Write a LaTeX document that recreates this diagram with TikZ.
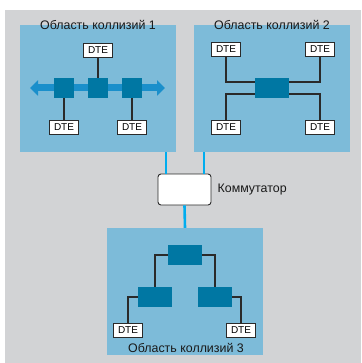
\documentclass[tikz,border=0pt]{standalone}
\usepackage{fontspec}
\setmainfont{Liberation Sans}
\usetikzlibrary{positioning,arrows.meta}
\definecolor{panelgray}{HTML}{D2D3D5}
\definecolor{areablue}{HTML}{7DBBD9}
\definecolor{hubblue}{HTML}{0077A3}
\definecolor{busblue}{HTML}{1A8FCB}
\definecolor{linkcyan}{HTML}{00ADEF}
\definecolor{wire}{HTML}{2A2A2A}

\begin{document}
\begin{tikzpicture}[
        x=1pt, y=-1pt,
        areabox/.style={fill=areablue, minimum width=156pt, minimum height=127pt, inner sep=0pt},
        areatitle/.style={font=\fontsize{12.4}{14}\selectfont, text=black!90, inner sep=0pt},
        dte/.style={draw=wire, fill=white, line width=0.8pt, minimum width=29pt, minimum height=14pt, inner sep=0pt, font=\fontsize{10}{11}\selectfont},
        hub/.style={fill=hubblue, minimum width=20pt, minimum height=20pt, inner sep=0pt},
        hubwide/.style={hub, minimum width=34pt},
        wired/.style={draw=wire, line width=1.1pt},
        uplink/.style={draw=linkcyan, line width=2.6pt},
        busline/.style={busblue, line width=7pt, {Triangle[length=8pt,width=15pt]}-{Triangle[length=8pt,width=15pt]}}
    ]
        \useasboundingbox (0,0) rectangle (361,363);
        \fill[panelgray] (5,10) rectangle (361,363);

        % Collision domain 1: shared bus
        \node[areabox] (area1) at (98,88.5) {};
        \node[areatitle] at ([yshift=-0.5pt]area1.north) {Область коллизий 1};
        \coordinate (busL) at (30,88);
        \coordinate (busR) at (165,88);
        \draw[busline] (busL) -- (busR);
        \node[hub] (tap1) at (64,88) {};
        \node[hub] (tap2) at (98,88) {};
        \node[hub] (tap3) at (132,88) {};
        \node[dte] (dteA) at (98,50) {DTE};
        \node[dte] (dteB) at (64,127) {DTE};
        \node[dte] (dteC) at (132,127) {DTE};
        \draw[wired] (tap2.north) -- (dteA.south);
        \draw[wired] (tap1.south) -- (dteB.north);
        \draw[wired] (tap3.south) -- (dteC.north);

        % Collision domain 2: hub
        \node[areabox] (area2) at (272,88.5) {};
        \node[areatitle] at ([yshift=-0.5pt]area2.north) {Область коллизий 2};
        \node[hubwide] (hub2) at (272,88) {};
        \node[dte] (dteD) at (226,49) {DTE};
        \node[dte] (dteE) at (320,49) {DTE};
        \node[dte] (dteF) at (226,127) {DTE};
        \node[dte] (dteG) at (320,127) {DTE};
        \draw[wired] (dteD.south) |- ([yshift=6pt]hub2.west);
        \draw[wired] (dteF.north) |- ([yshift=-6pt]hub2.west);
        \draw[wired] (dteE.south) |- ([yshift=6pt]hub2.east);
        \draw[wired] (dteG.north) |- ([yshift=-6pt]hub2.east);

        % Switch
        \node[draw=wire, fill=white, line width=0.9pt, rounded corners=3pt, minimum width=53pt, minimum height=31pt] (sw) at (184.5,189.5) {};
        \node[areatitle, right=6pt of sw] (swlabel) {Коммутатор};
        \draw[uplink] ([xshift=-18.5pt]sw.north) -- ([xshift=-18.5pt]sw.north |- area1.south);
        \draw[uplink] ([xshift=19.5pt]sw.north) -- ([xshift=19.5pt]sw.north |- area2.south);

        % Collision domain 3: tree of hubs
        \node[areabox] (area3) at (185,291.5) {};
        \draw[uplink] (sw.south) -- (area3.north);
        \node[areatitle] at (186,348) {Область коллизий 3};
        \node[hubwide] (root) at (185,255) {};
        \node[hubwide] (hubL) at (155,297) {};
        \node[hubwide] (hubR) at (215,297) {};
        \node[dte] (dteH) at (128,330) {DTE};
        \node[dte] (dteI) at (241,330) {DTE};
        \draw[wired] (root.west) -| (hubL.north);
        \draw[wired] (root.east) -| (hubR.north);
        \draw[wired] (hubL.west) -| (dteH.north);
        \draw[wired] (hubR.east) -| (dteI.north);
    \end{tikzpicture}
\end{document}
